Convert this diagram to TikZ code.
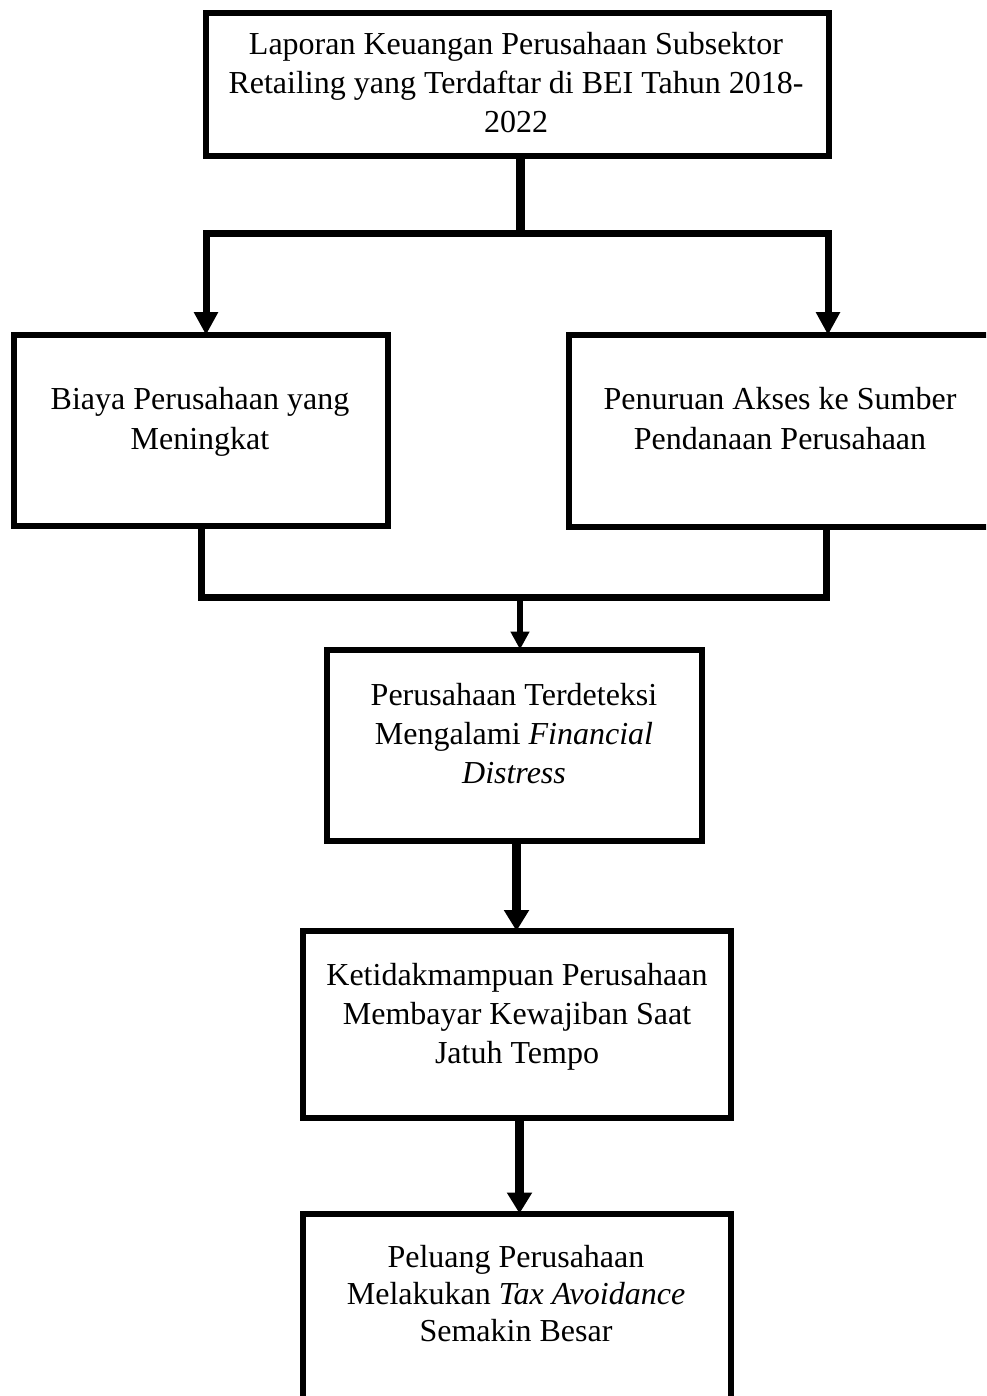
\documentclass[tikz,border=0pt]{standalone}
\usepackage{fontspec}
\setmainfont{Liberation Serif}
\usetikzlibrary{arrows.meta}
\begin{document}
\begin{tikzpicture}[x=0.5pt,y=-0.5pt,
  box/.style={draw, line width=3pt, inner sep=0pt, outer sep=0pt},
  txt/.style={align=center, inner sep=0pt, anchor=base, font=\fontsize{16}{19.5}\selectfont},
  conn/.style={line width=3.5pt, line join=miter},
  midtip/.style={-{Triangle[length=10.5pt,width=12pt]}},
  smalltip/.style={-{Triangle[length=9pt,width=9pt]}},
]
\useasboundingbox (0,0) rectangle (986,1396);
\clip (0,0) rectangle (986,1396);

% boxes
\node[box, minimum width=311.5pt, minimum height=71.5pt] (top) at (517.5,84.5) {};
\node[box, minimum width=187pt, minimum height=95.5pt] (left) at (201,430.5) {};
\node[box, minimum width=212pt, minimum height=96pt] (right) at (781,431) {};
\node[box, minimum width=187.5pt, minimum height=95.5pt] (fin) at (514.5,745) {};
\node[box, minimum width=213.75pt, minimum height=93.5pt] (pay) at (517,1024.5) {};
\node[box, minimum width=213.75pt, minimum height=103.25pt] (tax) at (517,1316.75) {};

% texts (base anchor = baseline of the last line)
\node[txt] (ttop) at (516,133) {Laporan Keuangan Perusahaan Subsektor\\Retailing yang Terdaftar di BEI Tahun 2018-\\2022};
\node[txt, font=\fontsize{16}{20}\selectfont] (tleft) at (200,449) {Biaya Perusahaan yang\\Meningkat};
\node[txt, font=\fontsize{16}{20}\selectfont] (tright) at (780,449) {Penuruan Akses ke Sumber\\Pendanaan Perusahaan};
\node[txt] (tfin) at (514,783) {Perusahaan Terdeteksi\\Mengalami \textit{Financial}\\\textit{Distress}};
\node[txt] (tpay) at (517,1063) {Ketidakmampuan Perusahaan\\Membayar Kewajiban Saat\\Jatuh Tempo};
\node[txt, font=\fontsize{16}{18.5}\selectfont] (ttax) at (516,1341) {Peluang Perusahaan\\Melakukan \textit{Tax Avoidance}\\Semakin Besar};

% junction coordinates
\coordinate (j1) at (520,234);
\coordinate (jl) at (206,234);
\coordinate (jr) at (828,234);
\coordinate (kl) at (201,597);
\coordinate (kr) at (826,597);
\coordinate (km) at (520,597);
\coordinate (a1) at (516.5,0);
\coordinate (a2) at (519.5,0);

% top split
\draw[conn, line width=4.5pt] (top.south -| j1) -- (j1);
\draw[conn, {Triangle[length=11.5pt,width=11.5pt]}-{Triangle[length=11.5pt,width=11.5pt]}]
  (jl |- left.north) -- (jl) -- (jr) -- (jr |- right.north);

% merge
\draw[conn] (left.south -| kl) -- (kl) -- (kr) -- (right.south -| kr);
\draw[line width=3pt, smalltip] (km) -- (fin.north -| km);

% chain
\draw[line width=4.5pt, midtip] (fin.south -| a1) -- (pay.north -| a1);
\draw[line width=4.5pt, midtip] (pay.south -| a2) -- (tax.north -| a2);
\end{tikzpicture}
\end{document}
